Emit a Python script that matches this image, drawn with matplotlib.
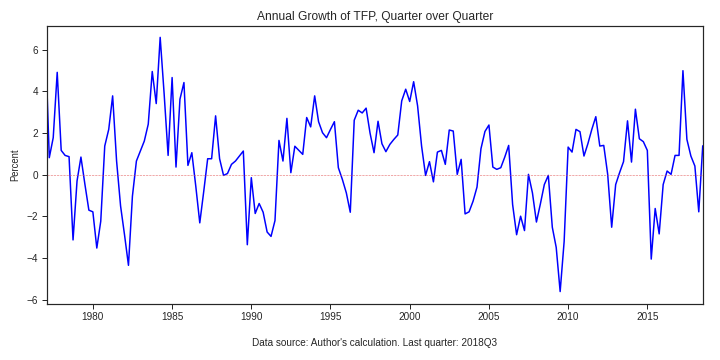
import numpy as np
import pandas as pd
import matplotlib
matplotlib.use("Agg")
import matplotlib.pyplot as plt
import matplotlib.dates as mdates

plt.rcParams['font.family'] = ['Liberation Sans', 'DejaVu Sans']

start_quarter = "1977-01-01"
tfp_growth = [
    6.4, 0.82, 1.78, 4.92, 1.17, 0.93, 0.87, -3.13, -0.30, 0.85,
    -0.45, -1.70, -1.78, -3.52, -2.23, 1.38, 2.18, 3.79, 0.66, -1.5,
    -2.9, -4.35, -1.03, 0.66, 1.14, 1.62, 2.43, 4.96, 3.42, 6.6,
    3.9, 0.93, 4.67, 0.37, 3.63, 4.43, 0.45, 1.06, -0.55, -2.31,
    -0.79, 0.77, 0.77, 2.83, 0.77, -0.03, 0.06, 0.5, 0.66, 0.9,
    1.14, -3.36, -0.14, -1.86, -1.38, -1.80, -2.75, -2.96, -2.2, 1.65,
    0.66, 2.71, 0.1, 1.37, 1.17, 0.98, 2.75, 2.3, 3.79, 2.55,
    2.02, 1.78, 2.18, 2.55, 0.34, -0.22, -0.87, -1.8, 2.62, 3.1,
    2.97, 3.2, 2.0, 1.06, 2.57, 1.49, 1.11, 1.46, 1.70, 1.91,
    3.55, 4.11, 3.52, 4.47, 3.31, 1.38, -0.03, 0.63, -0.34, 1.09,
    1.17, 0.5, 2.15, 2.1, 0.02, 0.74, -1.88, -1.78, -1.27, -0.59,
    1.25, 2.08, 2.39, 0.37, 0.26, 0.34, 0.85, 1.41, -1.43, -2.88,
    -1.99, -2.68, 0.02, -0.87, -2.27, -1.40, -0.47, -0.03, -2.52, -3.49,
    -5.61, -3.2, 1.33, 1.09, 2.18, 2.07, 0.9, 1.49, 2.18, 2.79,
    1.38, 1.41, 0.02, -2.52, -0.47, 0.1, 0.63, 2.59, 0.61, 3.15,
    1.73, 1.59, 1.17, -4.05, -1.62, -2.84, -0.47, 0.18, 0.02, 0.93,
    0.93, 5.0, 1.70, 0.9, 0.42, -1.78, 1.38,
]
title = "Annual Growth of TFP, Quarter over Quarter"
ylabel = "Percent"
caption = "Data source: Author's calculation. Last quarter: 2018Q3"

dates = pd.date_range(start_quarter, periods=len(tfp_growth), freq="QS")

fig = plt.figure(figsize=(10, 5), dpi=72)
ax = fig.add_axes([0.065, 0.156, 0.911, 0.772])
ax.plot(dates, tfp_growth, color="blue", lw=1.5)
ax.axhline(0, color="#e05050", lw=0.6, ls="--", alpha=0.8)

ax.set_xlim(pd.Timestamp("1977-02-03"), dates[-1])
ax.set_ylim(-6.2, 7.15)
ax.set_yticks([-6, -4, -2, 0, 2, 4, 6])
ax.xaxis.set_major_locator(mdates.YearLocator(5))
ax.xaxis.set_major_formatter(mdates.DateFormatter("%Y"))

for s in ax.spines.values():
    s.set_color("#262626")
    s.set_linewidth(1.2)
ax.tick_params(axis="both", direction="out", length=5, width=1, colors="#262626",
               labelsize=10, top=False, right=False)
ax.set_title(title, fontsize=12, color="#262626", pad=6)
ax.set_ylabel(ylabel, fontsize=9.5, color="#262626", labelpad=7)
ax.set_xlabel(caption, fontsize=10, color="#262626", labelpad=16)

fig.savefig("out.png", dpi=72)
